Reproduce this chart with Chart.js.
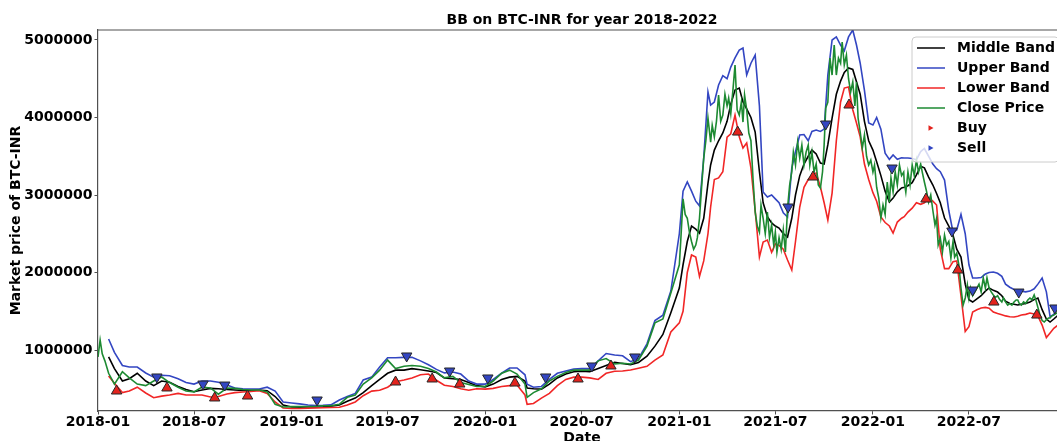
<!DOCTYPE html>
<html lang="en">
<head>
<meta charset="UTF-8">
<title>BB on BTC-INR for year 2018-2022</title>
<script src="https://cdn.jsdelivr.net/npm/chart.js@4.4.0/dist/chart.umd.min.js"></script>
<style>
  *{box-sizing:border-box;margin:0;padding:0}
  html,body{width:1057px;height:441px;overflow:hidden;background:#fff}
  /* plot runs a little past the window on the right, legend gets cut like the export */
  #wrap{position:relative;width:1085px;height:441px}
</style>
</head>
<body>
<div id="wrap"><canvas id="bb"></canvas></div>
<script>
// band sample dates: twice a month up to 2020, weekly through 2021-2022
const dates = [
  '2018-01-01','2018-01-05','2018-01-09','2018-01-14','2018-01-21',
  '2018-02-01','2018-02-16','2018-03-01','2018-03-16','2018-04-01','2018-04-16','2018-05-01','2018-05-16',
  '2018-06-01','2018-06-16','2018-07-01','2018-07-16','2018-08-01','2018-08-16','2018-09-01','2018-09-16',
  '2018-10-01','2018-10-16','2018-11-01','2018-11-16','2018-12-01','2018-12-16',
  '2019-01-01','2019-01-16','2019-02-01','2019-02-16','2019-03-01','2019-03-16','2019-04-01','2019-04-16',
  '2019-05-01','2019-05-16','2019-06-01','2019-06-16','2019-07-01','2019-07-16','2019-08-01','2019-08-16',
  '2019-09-01','2019-09-16','2019-10-01','2019-10-16','2019-11-01','2019-11-16','2019-12-01','2019-12-16',
  '2020-01-01','2020-01-16','2020-02-01','2020-02-16','2020-03-01','2020-03-16','2020-03-20','2020-04-01',
  '2020-04-16','2020-05-01','2020-05-16','2020-06-01','2020-06-16','2020-07-01','2020-07-16','2020-08-01',
  '2020-08-16','2020-09-01','2020-09-16','2020-10-01','2020-10-16','2020-11-01','2020-11-16','2020-12-01','2020-12-16',
  '2021-01-01','2021-01-08','2021-01-16','2021-01-24','2021-02-01','2021-02-08','2021-02-16','2021-02-24',
  '2021-03-01','2021-03-08','2021-03-16','2021-03-24','2021-04-01','2021-04-08','2021-04-16','2021-04-24',
  '2021-05-01','2021-05-08','2021-05-16','2021-05-24','2021-06-01','2021-06-08','2021-06-16','2021-06-24',
  '2021-07-01','2021-07-08','2021-07-16','2021-07-24','2021-08-01','2021-08-08','2021-08-16','2021-08-24',
  '2021-09-01','2021-09-08','2021-09-16','2021-09-24','2021-10-01','2021-10-08','2021-10-16','2021-10-24',
  '2021-11-01','2021-11-08','2021-11-16','2021-11-24','2021-12-01','2021-12-08','2021-12-16','2021-12-24',
  '2022-01-01','2022-01-08','2022-01-16','2022-01-24','2022-02-01','2022-02-08','2022-02-16','2022-02-24',
  '2022-03-01','2022-03-08','2022-03-16','2022-03-24','2022-04-01','2022-04-08','2022-04-16','2022-04-24',
  '2022-05-01','2022-05-08','2022-05-16','2022-05-24','2022-06-01','2022-06-08','2022-06-16','2022-06-24',
  '2022-07-01','2022-07-08','2022-07-16','2022-07-24','2022-08-01','2022-08-08','2022-08-16','2022-08-24',
  '2022-09-01','2022-09-08','2022-09-16','2022-09-24','2022-10-01','2022-10-08','2022-10-16','2022-10-24',
  '2022-11-01','2022-11-08','2022-11-16','2022-11-24','2022-12-01','2022-12-08','2022-12-16','2022-12-24','2022-12-31'
];

// 20-day bands only exist once the window is full
const middleBand = [
  null,null,null,null,910000,760000,600000,630000,700000,600000,540000,600000,585000,530000,490000,462000,
  484000,505000,500000,490000,484000,478000,478000,484000,475000,400000,290000,
  265000,262000,265000,265000,268000,275000,290000,340000,380000,450000,540000,620000,700000,740000,740000,760000,
  745000,730000,710000,640000,630000,620000,580000,540000,
  525000,560000,620000,650000,660000,600000,510000,500000,495000,560000,640000,690000,720000,725000,720000,760000,
  800000,840000,825000,810000,840000,920000,1050000,1200000,1480000,
  1800000,2100000,2400000,2600000,2560000,2509000,2700000,3150000,3387000,3580000,3700000,3800000,
  3950000,4170000,4354000,4380000,4200000,4110000,4000000,3812000,3300000,2900000,2720000,2640000,
  2600000,2574000,2500000,2458000,2700000,3000000,3250000,3400000,3500000,3580000,3530000,3412000,
  3400000,3650000,3993000,4300000,4470000,4580000,4640000,4620000,4460000,4300000,3950000,3700000,
  3580000,3430000,3250000,3050000,2909000,2961000,3040000,3090000,3100000,3120000,3160000,3260000,
  3370000,3350000,3230000,3129000,3020000,2900000,2703000,2600000,2480000,2300000,2200000,1850000,
  1650000,1619000,1660000,1700000,1760000,1800000,1770000,1748000,1700000,1630000,1600000,1590000,
  1580000,1590000,1600000,1620000,1650000,1671000,1520000,1400000,1361000,1400000,1450000,1460000,1470000
];

const upperBand = [
  null,null,null,null,1142000,970000,800000,781000,781000,703000,650000,675000,668000,630000,580000,560000,
  600000,600000,585000,548000,510000,500000,497000,497000,520000,470000,330000,
  316000,305000,290000,282000,285000,292000,355000,400000,440000,613000,650000,780000,900000,900000,905000,905000,
  860000,810000,750000,705000,716000,690000,600000,560000,
  560000,620000,700000,768000,768000,680000,560000,520000,530000,620000,700000,730000,755000,760000,760000,860000,
  955000,935000,925000,850000,890000,1080000,1380000,1450000,1760000,
  2500000,3050000,3168000,3050000,2920000,2860000,3477000,4329000,4161000,4200000,4420000,4540000,
  4500000,4650000,4770000,4870000,4896000,4550000,4700000,4806000,4150000,3038000,2974000,3000000,
  2950000,2900000,2770000,2716000,3348000,3560000,3774000,3780000,3700000,3820000,3838000,3820000,
  3850000,4548000,5000000,5040000,4935000,4860000,5040000,5129000,4935000,4700000,4350000,3930000,
  3903000,4000000,3850000,3540000,3460000,3516000,3460000,3480000,3477000,3477000,3470000,3455000,
  3560000,3600000,3500000,3400000,3340000,3300000,3193000,2800000,2520000,2550000,2750000,2500000,
  2100000,1929000,1929000,1935000,1980000,2000000,2006000,1990000,1950000,1850000,1810000,1780000,
  1770000,1760000,1750000,1760000,1790000,1850000,1929000,1750000,1430000,1460000,1570000,1560000,1540000
];

const lowerBand = [
  null,null,null,null,665000,570000,450000,470000,520000,445000,385000,405000,419000,440000,419000,420000,
  420000,394000,400000,432000,450000,458000,465000,475000,440000,330000,252000,
  245000,245000,250000,252000,255000,258000,262000,290000,330000,410000,470000,480000,520000,590000,613000,640000,
  680000,690000,610000,545000,530000,500000,480000,500000,
  495000,505000,530000,540000,548000,420000,300000,310000,380000,440000,540000,620000,650000,650000,640000,620000,
  700000,725000,730000,742000,765000,790000,870000,935000,1232000,
  1350000,1500000,2000000,2226000,2200000,1950000,2150000,2500000,2845000,3200000,3220000,3300000,
  3748000,3790000,4032000,3750000,3606000,3670000,3350000,2800000,2200000,2393000,2419000,2260000,
  2370000,2350000,2300000,2161000,2032000,2400000,2845000,3100000,3200000,3250000,3283000,3103000,
  2900000,2677000,3025000,3700000,4200000,4380000,4393000,4100000,3930000,3750000,3400000,3200000,
  3030000,2920000,2716000,2645000,2600000,2509000,2651000,2700000,2720000,2780000,2830000,2900000,
  2880000,2900000,2960000,2920000,2871000,2300000,2050000,2050000,2140000,2150000,1700000,1240000,
  1300000,1490000,1520000,1542000,1550000,1540000,1490000,1470000,1455000,1440000,1430000,1426000,
  1435000,1451000,1460000,1477000,1465000,1440000,1322000,1160000,1219000,1280000,1322000,1330000,1340000
];

// close is sampled denser from 2021 on, where it swings hard day to day
const closeDays = [1, 4, 8, 12, 16, 20, 24, 28];
const closeMonths = [];
for (let y = 2021; y <= 2022; y++) for (let m = 1; m <= 12; m++) closeMonths.push(y + '-' + String(m).padStart(2, '0'));
const closeDates = dates.slice(0, 76)
  .concat(...closeMonths.map(ym => closeDays.map(d => ym + '-' + String(d).padStart(2, '0'))))
  .concat(['2022-12-31']);

const closePrice = [
  910000,1129000,950000,860000,700000,560000,720000,640000,560000,540000,600000,652000,580000,520000,470000,460000,
  523000,510000,430000,510000,505000,490000,484000,484000,460000,300000,265000,
  270000,270000,272000,275000,280000,280000,300000,390000,420000,560000,640000,740000,870000,760000,790000,800000,
  790000,760000,716000,640000,660000,580000,555000,530000,
  530000,600000,700000,740000,690000,560000,390000,450000,500000,600000,660000,710000,740000,740000,740000,860000,
  890000,820000,830000,820000,870000,1050000,1350000,1400000,1735000,
  // 2021
  2100000,2450000,2950000,2750000,2700000,2520000,2400000,2300000,
  2354000,2450000,2700000,3100000,3477000,3700000,3993000,3750000,
  3683000,3900000,3750000,3950000,4290000,3950000,4032000,4300000,
  4150000,4251000,4050000,4350000,4677000,4100000,4032000,4200000,
  3941000,4290000,4100000,3800000,3700000,3200000,2780000,2600000,
  2520000,2871000,2700000,2500000,2780000,2450000,2613000,2354000,
  2522000,2264000,2450000,2300000,2550000,2264000,2832000,3129000,
  3300000,3554000,3387000,3683000,3477000,3645000,3387000,3554000,
  3645000,3387000,3554000,3296000,3400000,3129000,3090000,3300000,
  3645000,4122000,4200000,4767000,4548000,4935000,4548000,4767000,
  4700000,4974000,4677000,4806000,4500000,4329000,4458000,4150000,
  4458000,3993000,3812000,3606000,3774000,3500000,3387000,3450000,
  // 2022
  3296000,3387000,3100000,2961000,2703000,2871000,2750000,3168000,
  2909000,3219000,3038000,3296000,3129000,3387000,3250000,3296000,
  3168000,3038000,3296000,3129000,3387000,3250000,3450000,3296000,
  3400000,3296000,3168000,3050000,2909000,3000000,2800000,2613000,
  2700000,2354000,2445000,2264000,2483000,2354000,2400000,2187000,
  2400000,2200000,2250000,2100000,1800000,1580000,1671000,1839000,
  1671000,1800000,1700000,1748000,1800000,1850000,1750000,1929000,
  1800000,1929000,1800000,1750000,1710000,1680000,1700000,1650000,
  1619000,1671000,1620000,1580000,1600000,1580000,1620000,1645000,
  1645000,1600000,1580000,1620000,1600000,1645000,1671000,1650000,
  1710000,1650000,1550000,1451000,1380000,1361000,1390000,1413000,
  1413000,1440000,1450000,1470000,1490000,1480000,1475000,1470000,
  1470000
];

const buyDates = ['2018-02-05','2018-05-11','2018-08-09','2018-10-10','2019-07-16','2019-09-23','2019-11-14',
  '2020-02-26','2020-06-24','2020-08-25','2021-04-21','2021-09-10','2021-11-17','2022-04-11','2022-06-10',
  '2022-08-17','2022-11-06'];
const buyPrices = [471000,510000,381000,406000,587000,626000,561000,574000,626000,794000,3812000,3232000,
  4161000,2948000,2032000,1619000,1451000];

const sellDates = ['2018-04-22','2018-07-18','2018-08-28','2019-02-18','2019-08-06','2019-10-26','2020-01-06',
  '2020-04-24','2020-07-20','2020-10-09','2021-07-25','2021-10-04','2022-02-06','2022-05-30','2022-07-08',
  '2022-10-03','2022-12-10'];
const sellPrices = [652000,561000,548000,355000,923000,729000,639000,652000,794000,910000,2845000,3916000,
  3348000,2535000,1774000,1748000,1542000];

const xTickLabels = ['2018-01','2018-07','2019-01','2019-07','2020-01','2020-07','2021-01','2021-07','2022-01','2022-07'];
const yTicks = [1000000, 2000000, 3000000, 4000000, 5000000];

const COLORS = {middle: '#000000', upper: '#3346c2', lower: '#f12626', close: '#1d8a32',
  buy: '#e3231d', sell: '#3346c2', edge: '#262626', spine: '#505050'};

Chart.defaults.font.family = '"DejaVu Sans", sans-serif';
Chart.defaults.font.size = 14;
Chart.defaults.font.weight = 'bold';
Chart.defaults.color = '#000';

const toX = d => Date.parse(d + 'T00:00:00Z');
const pairs = (xs, ys) => xs.map((d, i) => ({x: toX(d), y: ys[i]}));

const priceLine = (label, xs, values, color, order) => ({
  label, data: pairs(xs, values), kind: 'line', order,
  borderColor: color, backgroundColor: color, borderWidth: 1.6,
  pointRadius: 0, tension: 0
});

const signal = (label, xs, ys, color, rotation, order) => ({
  label, data: pairs(xs, ys), kind: 'marker', order, showLine: false,
  pointStyle: 'triangle', pointRotation: rotation, pointRadius: 6,
  pointBackgroundColor: color, pointBorderColor: COLORS.edge, pointBorderWidth: 1,
  borderColor: color, backgroundColor: color
});

// axes box: matplotlib draws top/right spines too
const frame = {
  id: 'frame',
  afterDatasetsDraw(chart) {
    const {ctx, chartArea: a} = chart;
    ctx.save();
    ctx.strokeStyle = COLORS.spine;
    ctx.lineWidth = 1.2;
    ctx.beginPath();
    ctx.moveTo(a.left, a.top); ctx.lineTo(a.right, a.top); ctx.lineTo(a.right, a.bottom);
    ctx.stroke();
    ctx.restore();
  }
};

// legend box in the upper right corner of the axes
const cornerLegend = {
  id: 'cornerLegend',
  afterDatasetsDraw(chart) {
    const {ctx, chartArea: a} = chart;
    const x0 = a.right - 154, y0 = a.top + 7, w = 147, h = 125, row = 20;
    ctx.save();
    ctx.beginPath();
    ctx.roundRect(x0, y0, w, h, 4);
    ctx.fillStyle = 'rgba(255,255,255,0.8)';
    ctx.fill();
    ctx.strokeStyle = '#cccccc';
    ctx.lineWidth = 1;
    ctx.stroke();
    ctx.font = 'bold 14px "DejaVu Sans", sans-serif';
    ctx.textBaseline = 'middle';
    ctx.textAlign = 'left';
    chart.data.datasets.forEach((ds, i) => {
      const y = y0 + 11 + i * row;
      if (ds.kind === 'line') {
        ctx.strokeStyle = ds.borderColor;
        ctx.lineWidth = 1.5;
        ctx.beginPath();
        ctx.moveTo(x0 + 5, y); ctx.lineTo(x0 + 33, y);
        ctx.stroke();
      } else {
        ctx.fillStyle = ds.pointBackgroundColor;
        ctx.beginPath();
        ctx.moveTo(x0 + 16.5, y - 2.7); ctx.lineTo(x0 + 21.5, y); ctx.lineTo(x0 + 16.5, y + 2.7);
        ctx.closePath();
        ctx.fill();
      }
      ctx.fillStyle = '#000';
      ctx.fillText(ds.label, x0 + 45, y + 0.5);
    });
    ctx.restore();
  }
};

new Chart(document.getElementById('bb'), {
  type: 'line',
  data: {
    datasets: [
      priceLine('Middle Band', dates, middleBand, COLORS.middle, 5),
      priceLine('Upper Band', dates, upperBand, COLORS.upper, 4),
      priceLine('Lower Band', dates, lowerBand, COLORS.lower, 3),
      priceLine('Close Price', closeDates, closePrice, COLORS.close, 2),
      signal('Buy', buyDates, buyPrices, COLORS.buy, 0, 1),
      signal('Sell', sellDates, sellPrices, COLORS.sell, 180, 0)
    ]
  },
  options: {
    responsive: true,
    maintainAspectRatio: false,
    animation: false,
    devicePixelRatio: 1,
    layout: {padding: {left: 0, right: 19, top: 0, bottom: 0}},
    plugins: {
      legend: {display: false},
      tooltip: {enabled: false},
      title: {
        display: true, text: 'BB on BTC-INR for year 2018-2022', fullSize: false,
        padding: {top: 12, bottom: 1.2}, font: {size: 14, weight: 'bold'}, color: '#000'
      }
    },
    scales: {
      x: {
        type: 'linear',
        min: toX('2018-01-01'),
        max: toX('2022-12-31'),
        afterBuildTicks: s => { s.ticks = xTickLabels.map(l => ({value: toX(l + '-01')})); },
        afterFit: s => { s.height = 30; },
        ticks: {
          autoSkip: false, maxRotation: 0, padding: -1,
          callback: v => {
            const d = new Date(v);
            return d.getUTCFullYear() + '-' + String(d.getUTCMonth() + 1).padStart(2, '0');
          }
        },
        grid: {drawOnChartArea: false, drawTicks: true, tickLength: 3.5, color: COLORS.spine},
        border: {display: true, color: COLORS.spine, width: 1.2},
        title: {display: true, text: 'Date', padding: {top: 0, bottom: -6}}
      },
      y: {
        min: 213000,
        max: 5129000,
        afterBuildTicks: s => { s.ticks = yTicks.map(v => ({value: v})); },
        afterFit: s => { s.width = 98; },
        ticks: {padding: 2, callback: v => String(v)},
        grid: {drawOnChartArea: false, drawTicks: true, tickLength: 3.5, color: COLORS.spine},
        border: {display: true, color: COLORS.spine, width: 1.2},
        title: {display: true, text: 'Market price of BTC-INR', padding: {top: 7.6, bottom: 0}}
      }
    }
  },
  plugins: [frame, cornerLegend]
});
</script>
</body>
</html>
